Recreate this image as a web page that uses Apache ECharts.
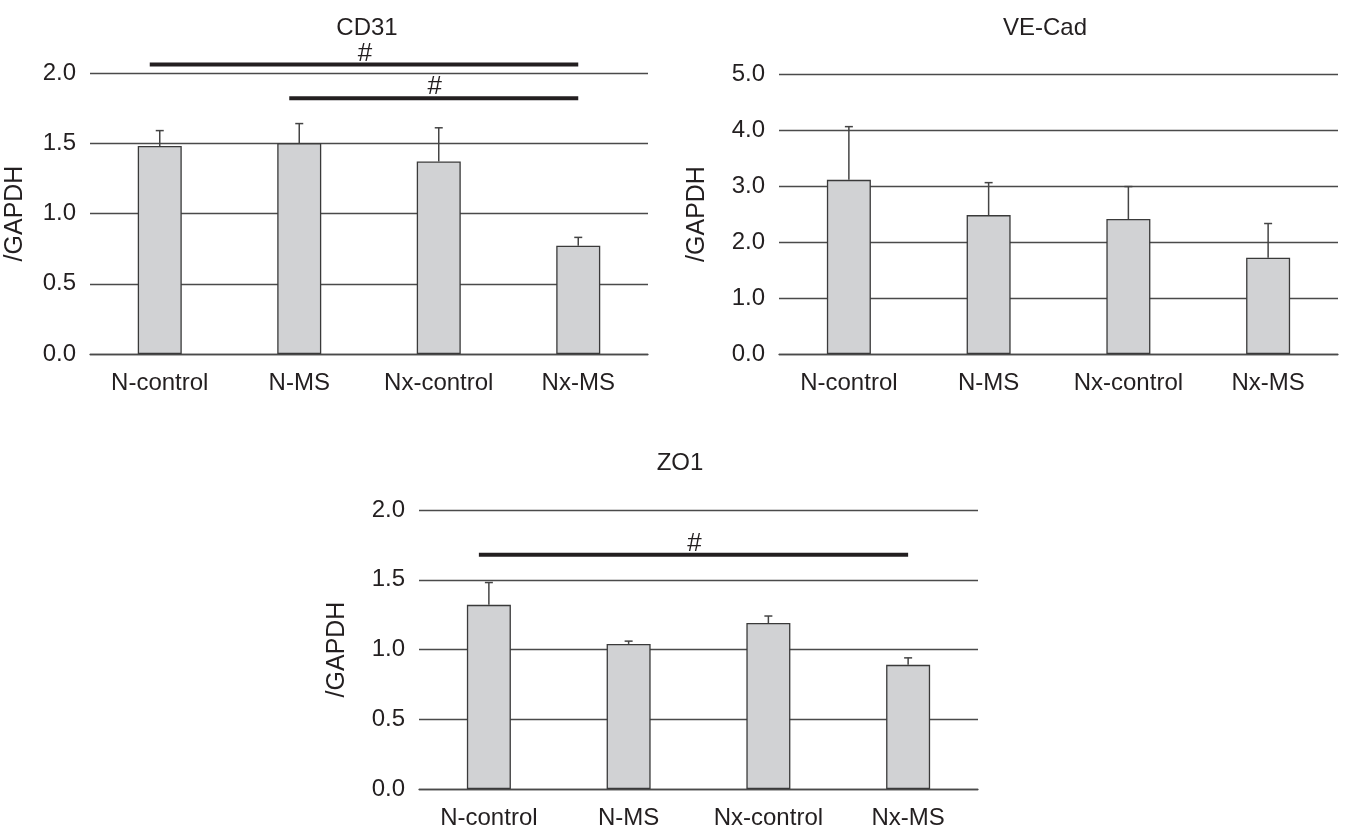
<!DOCTYPE html>
<html><head><meta charset="utf-8">
<script src="https://cdn.jsdelivr.net/npm/echarts@6/dist/echarts.min.js"></script>
<style>html,body{margin:0;padding:0;background:#fff}#c{width:1346px;height:830px}</style>
</head><body><div id="c"></div>
<script>
const categories = ['N-control', 'N-MS', 'Nx-control', 'Nx-MS'];
const titles = ['CD31', 'VE-Cad', 'ZO1'];
const cd31Values = [1.48, 1.50, 1.37, 0.77];
const cd31ErrTop = [1.59, 1.64, 1.61, 0.83];
const veCadValues = [3.11, 2.48, 2.41, 1.72];
const veCadErrTop = [4.06, 3.06, 2.99, 2.33];
const zo1Values = [1.32, 1.04, 1.19, 0.89];
const zo1ErrTop = [1.48, 1.06, 1.24, 0.94];
// significance brackets: [fromCategoryIndex, toCategoryIndex, yValue]
const cd31Sig = [[0, 3, 2.06], [1, 3, 1.82]];
const zo1Sig = [[0, 3, 1.68]];
const cd31Ticks = {min: 0, max: 2, interval: 0.5};
const veCadTicks = {min: 0, max: 5, interval: 1};
const zo1Ticks = {min: 0, max: 2, interval: 0.5};

const FONT = 'Liberation Sans, Arial, sans-serif';
const TXT = '#231f20';
const GRIDC = '#4a4a4a';

const chart = echarts.init(document.getElementById('c'), null, {renderer: 'canvas'});

const grids = [
  {left: 90, top: 73, width: 558, height: 281},
  {left: 779, top: 74, width: 559, height: 280},
  {left: 419, top: 510, width: 559, height: 280}
];
const ticks = [cd31Ticks, veCadTicks, zo1Ticks];
const vals = [cd31Values, veCadValues, zo1Values];
const errs = [cd31ErrTop, veCadErrTop, zo1ErrTop];
const sigs = [cd31Sig, [], zo1Sig];

const xAxes = grids.map((g, i) => ({
  type: 'category', gridIndex: i, data: categories,
  axisLine: {show: true, lineStyle: {color: GRIDC, width: 1.3}},
  axisTick: {show: false},
  axisLabel: {color: TXT, fontSize: 24, fontFamily: FONT, margin: 17, interval: 0, hideOverlap: false}
}));
const yAxes = grids.map((g, i) => ({
  type: 'value', gridIndex: i, min: ticks[i].min, max: ticks[i].max, interval: ticks[i].interval,
  name: '/GAPDH', nameLocation: 'middle', nameGap: i === 0 ? 62 : 69, nameRotate: 90,
  nameTextStyle: {color: TXT, fontSize: 25, fontFamily: FONT},
  axisLine: {show: false}, axisTick: {show: false},
  axisLabel: {color: TXT, fontSize: 24, fontFamily: FONT, margin: 14, formatter: v => v.toFixed(1)},
  splitLine: {show: true, lineStyle: {color: GRIDC, width: 1.3}}
}));

function renderErr(params, api) {
  const x = api.value(0), v = api.value(1), e = api.value(2);
  const p0 = api.coord([x, v]);
  const p1 = api.coord([x, e]);
  const cap = 4;
  const st = {stroke: '#444', lineWidth: 1.5};
  return {type: 'group', children: [
    {type: 'line', shape: {x1: p0[0], y1: p0[1], x2: p1[0], y2: p1[1]}, style: st},
    {type: 'line', shape: {x1: p1[0] - cap, y1: p1[1], x2: p1[0] + cap, y2: p1[1]}, style: st}
  ]};
}
function renderSig(params, api) {
  const a = api.coord([api.value(0), api.value(2)]);
  const b = api.coord([api.value(1), api.value(2)]);
  const mid = (a[0] + b[0]) / 2;
  return {type: 'group', children: [
    {type: 'line', shape: {x1: a[0] - 10, y1: a[1], x2: b[0], y2: b[1]}, style: {stroke: '#231f20', lineWidth: 4}},
    {type: 'text', style: {text: '#', x: mid - 4, y: a[1] + 2, align: 'center', verticalAlign: 'bottom', fontSize: 26, fontFamily: FONT, fill: TXT}}
  ]};
}

const series = [];
grids.forEach((g, i) => {
  series.push({
    type: 'bar', xAxisIndex: i, yAxisIndex: i, data: vals[i], barWidth: 44,
    itemStyle: {color: '#d1d2d4', borderColor: '#3a3a3a', borderWidth: 1.3}, z: 2
  });
  series.push({
    type: 'custom', xAxisIndex: i, yAxisIndex: i, z: 3,
    data: vals[i].map((v, k) => [k, v, errs[i][k]]),
    encode: {x: 0, y: [1, 2]},
    renderItem: renderErr
  });
  if (sigs[i].length) {
    series.push({
      type: 'custom', xAxisIndex: i, yAxisIndex: i, z: 4, clip: false,
      data: sigs[i], encode: {x: [0, 1], y: 2},
      renderItem: renderSig
    });
  }
});

const titleCenters = [[362, 11], [1040, 11], [675, 446]];
chart.setOption({
  animation: false,
  title: titles.map((t, i) => ({
    text: t, left: titleCenters[i][0], top: titleCenters[i][1], textAlign: 'center',
    textStyle: {color: TXT, fontSize: 24, fontWeight: 'normal', fontFamily: FONT}
  })),
  grid: grids,
  xAxis: xAxes,
  yAxis: yAxes,
  series: series
});
</script></body></html>
